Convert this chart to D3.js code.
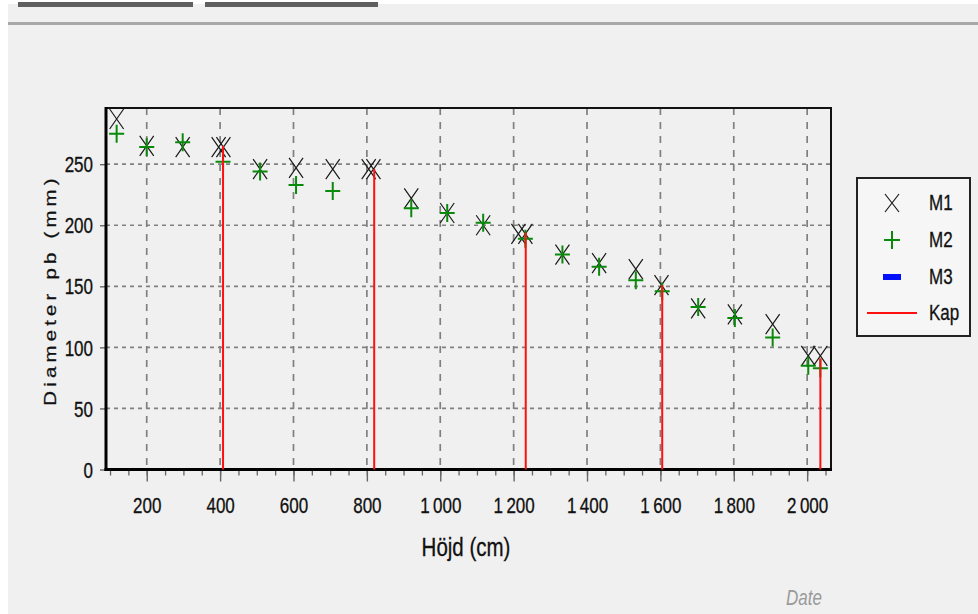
<!DOCTYPE html>
<html><head><meta charset="utf-8">
<script src="https://cdn.jsdelivr.net/npm/d3@7"></script>
<style>
html,body{margin:0;padding:0;background:#fff;}
svg{display:block;}
text{font-family:"Liberation Sans",Arial,sans-serif;}
</style></head>
<body>
<script>
// ---- data ----
const m1X = [118,200,298,396,409,509,607,707,805,818,921,1019,1117,1213,1232,1333,1433,1533,1603,1703,1803,1906,2003,2036];
const m1Y = [287,265,264,264,264,246,247,246,246,246,222,210,200,193,193,176,169,164,151,132,127,119,93,93];
const m2X = [118,200,298,408,509,607,707,921,1019,1117,1232,1333,1433,1533,1605,1703,1803,1906,2003,2036];
const m2Y = [275,264,268,252,244,233,228,214,210,202,189,176,166,155,146,133,124,108,85,83];
const kapX = [408,820,1233,1605,2036];
const kapY = [265,246,194,151,91];
const xTicks = [200,400,600,800,1000,1200,1400,1600,1800,2000];
const yTicks = [0,50,100,150,200,250];
const legendNames = ["M1","M2","M3","Kap"];

const W = 978, H = 614, SY = 1.25;
const FONT = "Liberation Sans, Arial, sans-serif";
const svg = d3.select("body").append("svg").attr("width", W).attr("height", H);

// window background
svg.append("rect").attr("x",0).attr("y",0).attr("width",W).attr("height",H).attr("fill","#fff");
svg.append("rect").attr("x",8).attr("y",4).attr("width",W-8).attr("height",H-4).attr("fill","#f0f0f0");
svg.append("rect").attr("x",18).attr("y",2).attr("width",175).attr("height",5).attr("fill","#5f5f5f");
svg.append("rect").attr("x",205).attr("y",2).attr("width",173).attr("height",5).attr("fill","#5f5f5f");
svg.append("rect").attr("x",8).attr("y",22).attr("width",W-8).attr("height",3).attr("fill","#a8a8a8");

const x = d3.scaleLinear().domain([89, 2065]).range([106, 831]);
const y = d3.scaleLinear().domain([0, 296]).range([469.5, 108]);

const loc = d3.formatLocale({decimal:",", thousands:"\u2009", grouping:[3], currency:["",""]});
const fmt = loc.format(",d");

// grid
const g = svg.append("g");
g.selectAll(".vg").data(xTicks).join("line")
  .attr("x1", d=>x(d)).attr("x2", d=>x(d)).attr("y1", y.range()[1]).attr("y2", y.range()[0])
  .attr("stroke","#808080").attr("stroke-width",1.7).attr("stroke-dasharray","7,7");
g.selectAll(".hg").data(yTicks.filter(d=>d>0)).join("line")
  .attr("x1", x.range()[0]).attr("x2", x.range()[1]).attr("y1", d=>y(d)).attr("y2", d=>y(d))
  .attr("stroke","#808080").attr("stroke-width",1.7).attr("stroke-dasharray","4,4");

// axes
const xAxis = d3.axisBottom(x).tickValues(xTicks).tickFormat(fmt).tickSize(12);
const xMinor = d3.axisBottom(x).tickValues(d3.range(100, 2051, 50)).tickFormat("").tickSize(6);
const yAxis = d3.axisLeft(y).tickValues(yTicks).tickSize(6).tickPadding(7);

const gxm = svg.append("g").attr("transform",`translate(0,${y(0)})`).call(xMinor);
gxm.select(".domain").remove();
gxm.selectAll("line").attr("stroke","#666").attr("stroke-width",1.3);
const gx = svg.append("g").attr("transform",`translate(0,${y(0)})`).call(xAxis);
gx.select(".domain").remove();
gx.selectAll("line").attr("stroke","#666").attr("stroke-width",1.4);
gx.selectAll("text").attr("font-size",17).attr("fill","#111").attr("font-family",FONT)
  .attr("y",0).attr("dy",null).attr("transform",`translate(0,43) scale(1,${SY})`)
  .attr("stroke","#111").attr("stroke-width",0.25);

const gy = svg.append("g").attr("transform",`translate(${x.range()[0]},0)`).call(yAxis);
gy.select(".domain").remove();
gy.selectAll("line").attr("stroke","#666").attr("stroke-width",1.4);
gy.selectAll("text").attr("font-size",17).attr("fill","#111").attr("font-family",FONT)
  .attr("dy","0.36em").attr("transform",`scale(1,${SY})`)
  .attr("stroke","#111").attr("stroke-width",0.25);

// frame
const x0 = x.range()[0], x1 = x.range()[1], yT = y.range()[1], yB = y.range()[0];
svg.append("line").attr("x1",x0-1).attr("x2",x1+1).attr("y1",yT).attr("y2",yT).attr("stroke","#111").attr("stroke-width",2);
svg.append("line").attr("x1",x1).attr("x2",x1).attr("y1",yT).attr("y2",yB).attr("stroke","#111").attr("stroke-width",2);
svg.append("line").attr("x1",x0).attr("x2",x0).attr("y1",yT-1).attr("y2",yB+1.5).attr("stroke","#000").attr("stroke-width",3);
svg.append("line").attr("x1",x0-1.5).attr("x2",x1+1).attr("y1",yB).attr("y2",yB).attr("stroke","#000").attr("stroke-width",3);

// markers
const xPath = "M-7,-10L7,10M7,-10L-7,10";
const pPath = "M-7.5,0H7.5M0,-9V9";

const m1 = d3.zip(m1X, m1Y), m2 = d3.zip(m2X, m2Y), kap = d3.zip(kapX, kapY);

svg.append("g").selectAll("path").data(m1).join("path")
  .attr("transform", d=>`translate(${x(d[0])},${y(d[1])})`)
  .attr("d", xPath).attr("fill","none").attr("stroke","#1a1a1a").attr("stroke-width",1.2);
svg.append("g").selectAll("path").data(m2).join("path")
  .attr("transform", d=>`translate(${x(d[0])},${y(d[1])})`)
  .attr("d", pPath).attr("fill","none").attr("stroke","#0a8a0a").attr("stroke-width",2);
svg.append("g").selectAll("line").data(kap).join("line")
  .attr("x1", d=>x(d[0])).attr("x2", d=>x(d[0])).attr("y1", d=>y(d[1])).attr("y2", y(0))
  .attr("stroke","#ff1010").attr("stroke-width",2);

// axis titles
svg.append("text").attr("transform",`translate(466,556) scale(1,${SY})`).attr("text-anchor","middle")
  .attr("font-size",20.5).attr("fill","#111").attr("stroke","#111").attr("stroke-width",0.25).text("Höjd (cm)");
svg.append("text").attr("transform","translate(56,290) rotate(-90) scale(1.2,1)").attr("text-anchor","middle")
  .attr("font-size",17).attr("letter-spacing","3.5px").attr("fill","#111").attr("stroke","#111").attr("stroke-width",0.25)
  .text("Diameter pb (mm)");
svg.append("text").attr("transform",`translate(804,605) scale(1,${SY})`).attr("text-anchor","middle")
  .attr("font-size",17).attr("font-style","italic").attr("fill","#9a9a9a").text("Date");

// legend
const lg = svg.append("g");
lg.append("rect").attr("x",857).attr("y",178).attr("width",113).attr("height",158)
  .attr("fill","#f6f6f6").attr("stroke","#222").attr("stroke-width",2);
const ly = [203, 240, 277, 313];
const lsx = 892;
lg.append("path").attr("transform",`translate(${lsx},${ly[0]})`).attr("d","M-7,-9L7,9M7,-9L-7,9")
  .attr("stroke","#1a1a1a").attr("stroke-width",1.2).attr("fill","none");
lg.append("path").attr("transform",`translate(${lsx},${ly[1]})`).attr("d","M-8,0H8M0,-9V9")
  .attr("stroke","#0a8a0a").attr("stroke-width",2).attr("fill","none");
lg.append("rect").attr("x",lsx-9).attr("y",ly[2]-3).attr("width",18).attr("height",6).attr("fill","#0010ff");
lg.append("line").attr("x1",867).attr("x2",917).attr("y1",ly[3]).attr("y2",ly[3]).attr("stroke","#ff1010").attr("stroke-width",2);
lg.selectAll(".lt").data(legendNames).join("text")
  .attr("transform",(d,i)=>`translate(929,${ly[i]+7}) scale(1,${SY})`)
  .attr("font-size",17).attr("fill","#111").attr("stroke","#111").attr("stroke-width",0.25).text(d=>d);
</script>
</body></html>
